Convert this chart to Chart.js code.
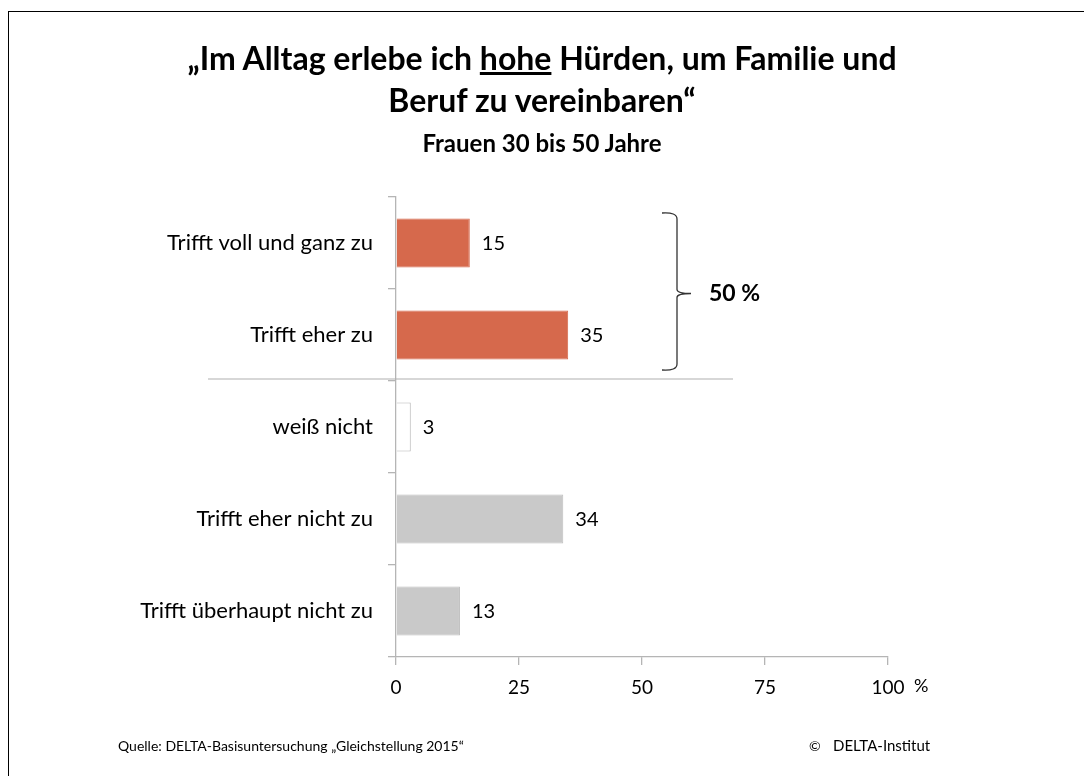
<!DOCTYPE html>
<html><head><meta charset="utf-8">
<script src="https://cdn.jsdelivr.net/npm/chart.js@4/dist/chart.umd.min.js"></script>
<style>
html,body{margin:0;padding:0;background:#fff;overflow:hidden}
body{width:1084px;height:776px;position:relative;font-family:Lato,"Open Sans",sans-serif;color:#000}
#frame{position:absolute;left:8px;top:11px;width:1200px;height:900px;border:1.5px solid #000;box-sizing:border-box}
#c{position:absolute;left:0;top:0}
.t{position:absolute;left:0;width:1084px;text-align:center;font-weight:bold;white-space:nowrap}
#t1{top:37px;font-size:32px;line-height:42px}
#t2{top:128px;font-size:24px;line-height:30px}
.foot{position:absolute;top:737px;font-size:14px;white-space:nowrap}
</style></head>
<body>
<div id="frame"></div>
<canvas id="c" width="1084" height="776"></canvas>
<div class="t" id="t1">„Im Alltag erlebe ich <u>hohe</u> Hürden, um Familie und<br>Beruf zu vereinbaren“</div>
<div class="t" id="t2">Frauen 30 bis 50 Jahre</div>
<div class="foot" style="left:118px">Quelle: DELTA-Basisuntersuchung „Gleichstellung 2015“</div>
<div class="foot" style="left:809px">©</div>
<div class="foot" style="left:833px;font-size:15px;top:736px">DELTA-Institut</div>
<script>
const categories = ["Trifft voll und ganz zu","Trifft eher zu","weiß nicht","Trifft eher nicht zu","Trifft überhaupt nicht zu"];
const values = [15,35,3,34,13];
const xTicks = [0,25,50,75,100];
const groupLabel = "50 %";

const fills = ["#d6694c","#d6694c","#ffffff","#c9c9c9","#c9c9c9"];
const borders = ["#d6694c","#d6694c","#b5b5b5","#bdbdbd","#bdbdbd"];
const FONT = "Lato, 'Open Sans', sans-serif";

const extras = {
  id:"extras",
  afterDatasetsDraw(ch){
    const ctx = ch.ctx, x = ch.scales.x, y = ch.scales.y;
    const meta = ch.getDatasetMeta(0);
    ctx.save();
    ctx.font = "20px " + FONT; ctx.fillStyle = "#000"; ctx.textBaseline = "middle"; ctx.textAlign = "left";
    meta.data.forEach((b,i)=>ctx.fillText(values[i], b.x + 12, b.y + 1));
    // separator between agree and rest
    const sepY = (meta.data[1].y + meta.data[2].y) / 2 - 2;
    ctx.strokeStyle = "#b0b0b0"; ctx.lineWidth = 1.2;
    ctx.beginPath(); ctx.moveTo(208, sepY); ctx.lineTo(733, sepY); ctx.stroke();
    // bracket
    const top = meta.data[0].y - 30, bot = meta.data[1].y + 35, mid = (top + bot) / 2 + 2, bx = 677;
    ctx.strokeStyle = "#333"; ctx.lineWidth = 1.3;
    ctx.beginPath();
    ctx.moveTo(662, top); ctx.quadraticCurveTo(bx, top - 1, bx, top + 6);
    ctx.lineTo(bx, mid - 4); ctx.quadraticCurveTo(bx, mid, bx + 14, mid);
    ctx.moveTo(bx + 14, mid); ctx.quadraticCurveTo(bx, mid, bx, mid + 4);
    ctx.lineTo(bx, bot - 6); ctx.quadraticCurveTo(bx, bot + 1, 662, bot);
    ctx.stroke();
    ctx.font = "bold 23px " + FONT;
    ctx.fillText(groupLabel, 709, mid);
    // unit
    ctx.font = "18px " + FONT; ctx.textBaseline = "alphabetic";
    ctx.fillText("%", x.getPixelForValue(100) + 26, y.bottom + 35);
    ctx.restore();
  }
};

new Chart(document.getElementById("c"), {
  type:"bar",
  data:{labels:categories, datasets:[{data:values, backgroundColor:fills, borderColor:borders, borderWidth:1,
    categoryPercentage:1, barPercentage:0.53}]},
  options:{
    indexAxis:"y", responsive:false, animation:false,
    layout:{padding:{left:0,right:196,top:197,bottom:79}},
    plugins:{legend:{display:false}, tooltip:{enabled:false}},
    scales:{
      x:{min:0,max:100,afterBuildTicks:s=>{s.ticks = xTicks.map(v=>({value:v}));},
        afterFit:s=>{s.height = 40;},
        border:{color:"#b5b5b5",width:1.3},
        grid:{drawOnChartArea:false,tickLength:8,color:"#b5b5b5",lineWidth:1.3},
        ticks:{color:"#000",font:{family:FONT,size:19},padding:11,maxRotation:0}},
      y:{afterFit:s=>{s.width = 396;},
        border:{color:"#b5b5b5",width:1.3},
        grid:{drawOnChartArea:false,tickLength:8,color:"#b5b5b5",lineWidth:1.3,offset:true},
        ticks:{color:"#000",font:{family:FONT,size:22},padding:15}}
    }
  },
  plugins:[extras]
});
</script>
</body></html>
